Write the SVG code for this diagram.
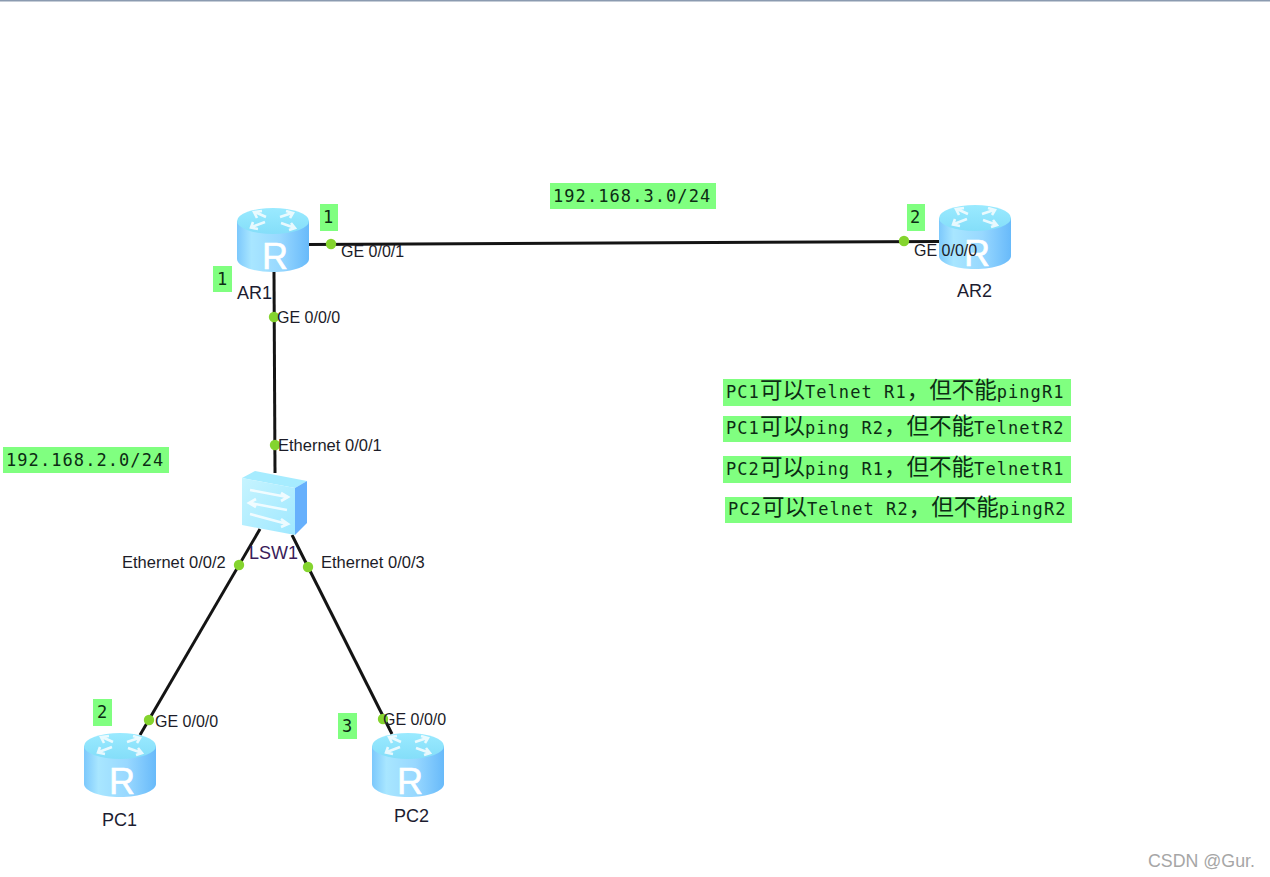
<svg xmlns="http://www.w3.org/2000/svg" width="1270" height="877" viewBox="0 0 1270 877">
<style>
.link{stroke:#141414;stroke-width:3;fill:none}
.dot{fill:#84d42e;stroke:none}
.port{font:16.500px "Liberation Sans",Arial,sans-serif;fill:#1c1c28}
.ge{font-size:16px}
.name{font:18px "Liberation Sans",Arial,sans-serif;fill:#1c1c30}
.tag{fill:#80ff80}
.mono{font:17px "DejaVu Sans Mono","Noto Sans CJK SC",monospace;letter-spacing:1.070px;fill:#0c2c14}
.cjk{font-family:"Noto Sans CJK SC",sans-serif;font-size:22.500px;letter-spacing:0}
.wm{font:17.800px "Liberation Sans",Arial,sans-serif;fill:#a6a6a6}
.rl{font:36px "Liberation Sans",Arial,sans-serif;fill:#fff;text-anchor:middle;stroke:#fff;stroke-width:.6}
.arrow{fill:none;stroke:#fff;stroke-width:2.600;opacity:.8}
</style>
<defs>
<linearGradient id="side" x1="0" x2="1" y1="0" y2="0">
<stop offset="0" stop-color="#7cc8fc"/><stop offset=".2" stop-color="#a8e6ff"/><stop offset=".6" stop-color="#98d8ff"/><stop offset="1" stop-color="#68bafa"/>
</linearGradient>
<linearGradient id="top" x1="0" x2="0" y1="0" y2="1">
<stop offset="0" stop-color="#9aeaff"/><stop offset="1" stop-color="#84def9"/>
</linearGradient>
<linearGradient id="front" x1="0" x2="1" y1="0" y2="1">
<stop offset="0" stop-color="#c6f4ff"/><stop offset="1" stop-color="#a0e8ff"/>
</linearGradient>
<g id="router">
<path d="M0 13V51C0 58 16 64 36 64S72 58 72 51V13Z" fill="url(#side)"/>
<ellipse cx="36" cy="13" rx="36" ry="13" fill="url(#top)"/>
<g class="arrow">
<path d="M29 9L18 4M25 3L17 4L20 10"/>
<path d="M43 9L55 5M49 3L56 5L53 10"/>
<path d="M28 14L15 19M16 14L14 19.500L21 21"/>
<path d="M44 15L58 20M52 22L58 20L54 15"/>
</g>
<text class="rl" x="38" y="61">R</text>
</g>
</defs>
<rect width="1270" height="877" fill="#fff"/>
<rect width="1270" height="1.500" fill="#8b9bb0"/>

<g id="connectors">
<path class="link" d="M309 244.500L940 241.500"/>
<path class="link" d="M274 272L275 473"/>
<path class="link" d="M260 529L140 735"/>
<path class="link" d="M292 535L392 734"/>
<circle class="dot" cx="331" cy="244" r="5.200"/>
<circle class="dot" cx="274" cy="317" r="5.200"/>
<circle class="dot" cx="275" cy="445" r="5.200"/>
<circle class="dot" cx="239" cy="565" r="5.200"/>
<circle class="dot" cx="308" cy="567" r="5.200"/>
<circle class="dot" cx="149" cy="720" r="5.200"/>
<circle class="dot" cx="383" cy="719" r="5.200"/>
<circle class="dot" cx="904" cy="241" r="5.200"/>
<text class="port ge" x="341" y="257">GE 0/0/1</text>
<text class="port ge" x="277" y="323">GE 0/0/0</text>
<text class="port" x="278" y="451">Ethernet 0/0/1</text>
<text class="port" x="122" y="568">Ethernet 0/0/2</text>
<text class="port" x="321" y="568">Ethernet 0/0/3</text>
<text class="port ge" x="155" y="727">GE 0/0/0</text>
<text class="port ge" x="383" y="725">GE 0/0/0</text>
</g>

<g id="AR1"><use href="#router" x="237" y="208"/><text class="name" x="237" y="299">AR1</text></g>
<g id="AR2"><use href="#router" x="939" y="205"/><text class="name" x="957" y="297">AR2</text></g>
<g id="PC1"><use href="#router" x="84" y="733"/><text class="name" x="102" y="826">PC1</text></g>
<g id="PC2"><use href="#router" x="372" y="733"/><text class="name" x="394" y="822">PC2</text></g>
<g id="LSW1">
<path d="M242 478L255 471L307 481L295 488Z" fill="#a6ecff"/>
<path d="M242 478L295 488V535L242 525Z" fill="url(#front)"/>
<path d="M295 488L307 481V523L295 535Z" fill="#66b0fc"/>
<g class="arrow">
<path d="M250 490L287 497M281 493L288 497L281 501"/>
<path d="M287 510L250 503M256 499L249 503L256 507"/>
<path d="M250 514L287 524M281 519L288 524L281 527"/>
</g>
<text class="name" x="249" y="559" style="fill:#3a1c5a">LSW1</text>
</g>
<text class="port ge" x="914" y="256">GE 0/0/0</text>

<g id="notes">
<rect class="tag" x="320" y="204" width="18" height="27"/><text class="mono" x="323" y="223">1</text>
<rect class="tag" x="213" y="266" width="19" height="26"/><text class="mono" x="217" y="285">1</text>
<rect class="tag" x="907" y="204" width="18" height="27"/><text class="mono" x="910" y="223">2</text>
<rect class="tag" x="93" y="699" width="19" height="27"/><text class="mono" x="97" y="718">2</text>
<rect class="tag" x="338" y="713" width="19" height="26"/><text class="mono" x="342" y="732">3</text>
<rect class="tag" x="550" y="183" width="166" height="26"/><text class="mono" x="553" y="202">192.168.3.0/24</text>
<rect class="tag" x="3" y="447" width="166" height="26"/><text class="mono" x="6" y="466">192.168.2.0/24</text>
<rect class="tag" x="723" y="379" width="348" height="27"/>
<text class="mono" x="726" y="398">PC1<tspan class="cjk">可以</tspan>Telnet R1<tspan class="cjk">，但不能</tspan>pingR1</text>
<rect class="tag" x="723" y="416" width="348" height="26"/>
<text class="mono" x="726" y="434">PC1<tspan class="cjk">可以</tspan>ping R2<tspan class="cjk">，但不能</tspan>TelnetR2</text>
<rect class="tag" x="723" y="456" width="348" height="27"/>
<text class="mono" x="726" y="475">PC2<tspan class="cjk">可以</tspan>ping R1<tspan class="cjk">，但不能</tspan>TelnetR1</text>
<rect class="tag" x="725" y="497" width="347" height="26"/>
<text class="mono" x="728" y="515">PC2<tspan class="cjk">可以</tspan>Telnet R2<tspan class="cjk">，但不能</tspan>pingR2</text>
</g>
<text class="wm" x="1148" y="867">CSDN @Gur.</text>
</svg>
